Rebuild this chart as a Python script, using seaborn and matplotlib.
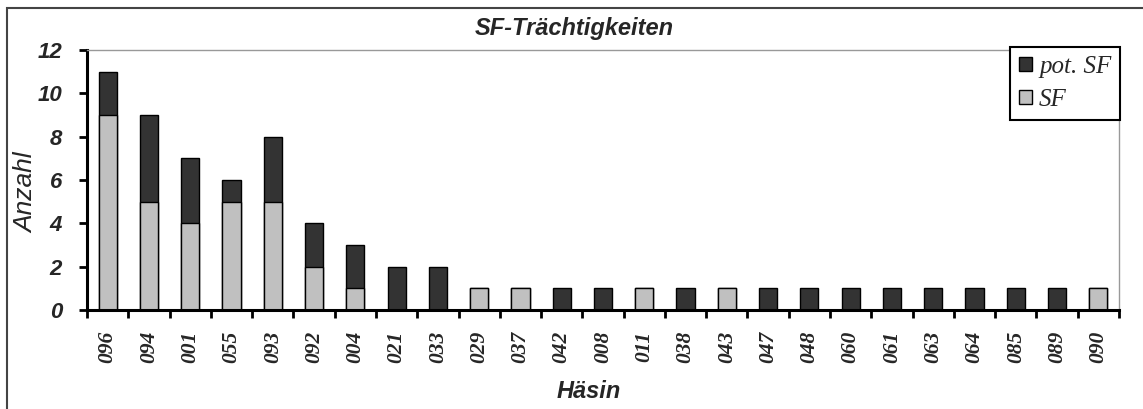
import matplotlib
matplotlib.use("Agg")
import matplotlib.pyplot as plt
import seaborn as sns
import pandas as pd
from matplotlib.patches import Rectangle, Patch

categories = ["096", "094", "001", "055", "093", "092", "004", "021", "033", "029",
              "037", "042", "008", "011", "038", "043", "047", "048", "060", "061",
              "063", "064", "085", "089", "090"]
sf_values = [9, 5, 4, 5, 5, 2, 1, 0, 0, 1, 1, 0, 0, 1, 0, 1, 0, 0, 0, 0, 0, 0, 0, 0, 1]
pot_sf_values = [2, 4, 3, 1, 3, 2, 2, 2, 2, 0, 0, 1, 1, 0, 1, 0, 1, 1, 1, 1, 1, 1, 1, 1, 0]
y_ticks = [0, 2, 4, 6, 8, 10, 12]

df = pd.DataFrame({"Häsin": categories, "SF": sf_values, "pot. SF": pot_sf_values})
df["total"] = df["SF"] + df["pot. SF"]

sns.set_style("white")
plt.rcParams["font.family"] = ["Liberation Sans", "DejaVu Sans"]

dark = "#333333"
light = "#c0c0c0"

W, H = 1143, 409
L, R, T, B = 87, 1119, 50, 310

fig = plt.figure(figsize=(W / 100, H / 100), dpi=100)
ax = fig.add_axes([L / W, (H - B) / H, (R - L) / W, (B - T) / H])

sns.barplot(data=df, x="Häsin", y="total", color=dark, width=0.44,
            edgecolor="black", linewidth=1, saturation=1, ax=ax, order=categories)
sns.barplot(data=df[df["SF"] > 0], x="Häsin", y="SF", color=light, width=0.44,
            edgecolor="black", linewidth=1, saturation=1, ax=ax, order=categories)

ax.set_xlim(-0.5, len(categories) - 0.5)
ax.set_ylim(0, 12)
ax.set_yticks(y_ticks)
ax.set_yticklabels([str(v) for v in y_ticks], fontsize=16, fontweight="bold",
                   fontstyle="italic")
ax.set_xticks(range(len(categories)))
ax.set_xticklabels(categories, rotation=90, fontsize=15.5, fontweight="bold",
                   fontstyle="italic", family="Liberation Serif")
ax.set_xticks([i - 0.5 for i in range(len(categories) + 1)], minor=True)
ax.tick_params(axis="x", which="major", bottom=True, length=0, pad=15)
ax.tick_params(axis="x", which="minor", bottom=True, length=6, width=2,
               color="black", direction="out")
ax.tick_params(axis="y", which="major", left=True, length=6, width=2,
               color="black", direction="out", pad=12)

for s in ["left", "bottom"]:
    ax.spines[s].set_color("black")
    ax.spines[s].set_linewidth(2.2)
for s in ["top", "right"]:
    ax.spines[s].set_color("#999999")
    ax.spines[s].set_linewidth(1)

ax.set_xlabel("Häsin", fontsize=17, fontstyle="italic", fontweight="bold", va="center")
ax.xaxis.set_label_coords((589 - L) / (R - L), (B - 391) / (B - T))
ax.set_ylabel("Anzahl", fontsize=19, fontstyle="italic", va="center")
ax.yaxis.set_label_coords((26 - L) / (R - L), (B - 193) / (B - T))
ax.set_title("SF-Trächtigkeiten", fontsize=17, fontstyle="italic", fontweight="bold",
             x=(574.5 - L) / (R - L), y=(B - 28) / (B - T), va="center", pad=0)

handles = [Patch(facecolor=dark, edgecolor="black", label="pot. SF"),
           Patch(facecolor=light, edgecolor="black", label="SF")]
leg = ax.legend(handles=handles, loc="upper right",
                bbox_to_anchor=(1.001, (B - 47) / (B - T)),
                frameon=True, fancybox=False, handlelength=0.5, handleheight=0.5,
                handletextpad=0.3, borderpad=0.35, labelspacing=0.45,
                borderaxespad=0,
                prop={"family": "Liberation Serif", "style": "italic", "size": 18})
leg.get_frame().set_edgecolor("black")
leg.get_frame().set_linewidth(1.5)
leg.get_frame().set_alpha(1)

fig.patches.append(Rectangle((7 / W, -0.1), 1.2, 1.1 - 8 / H,
                             transform=fig.transFigure, fill=False,
                             edgecolor="#444444", linewidth=1.5))

fig.savefig("out.png", dpi=100)
